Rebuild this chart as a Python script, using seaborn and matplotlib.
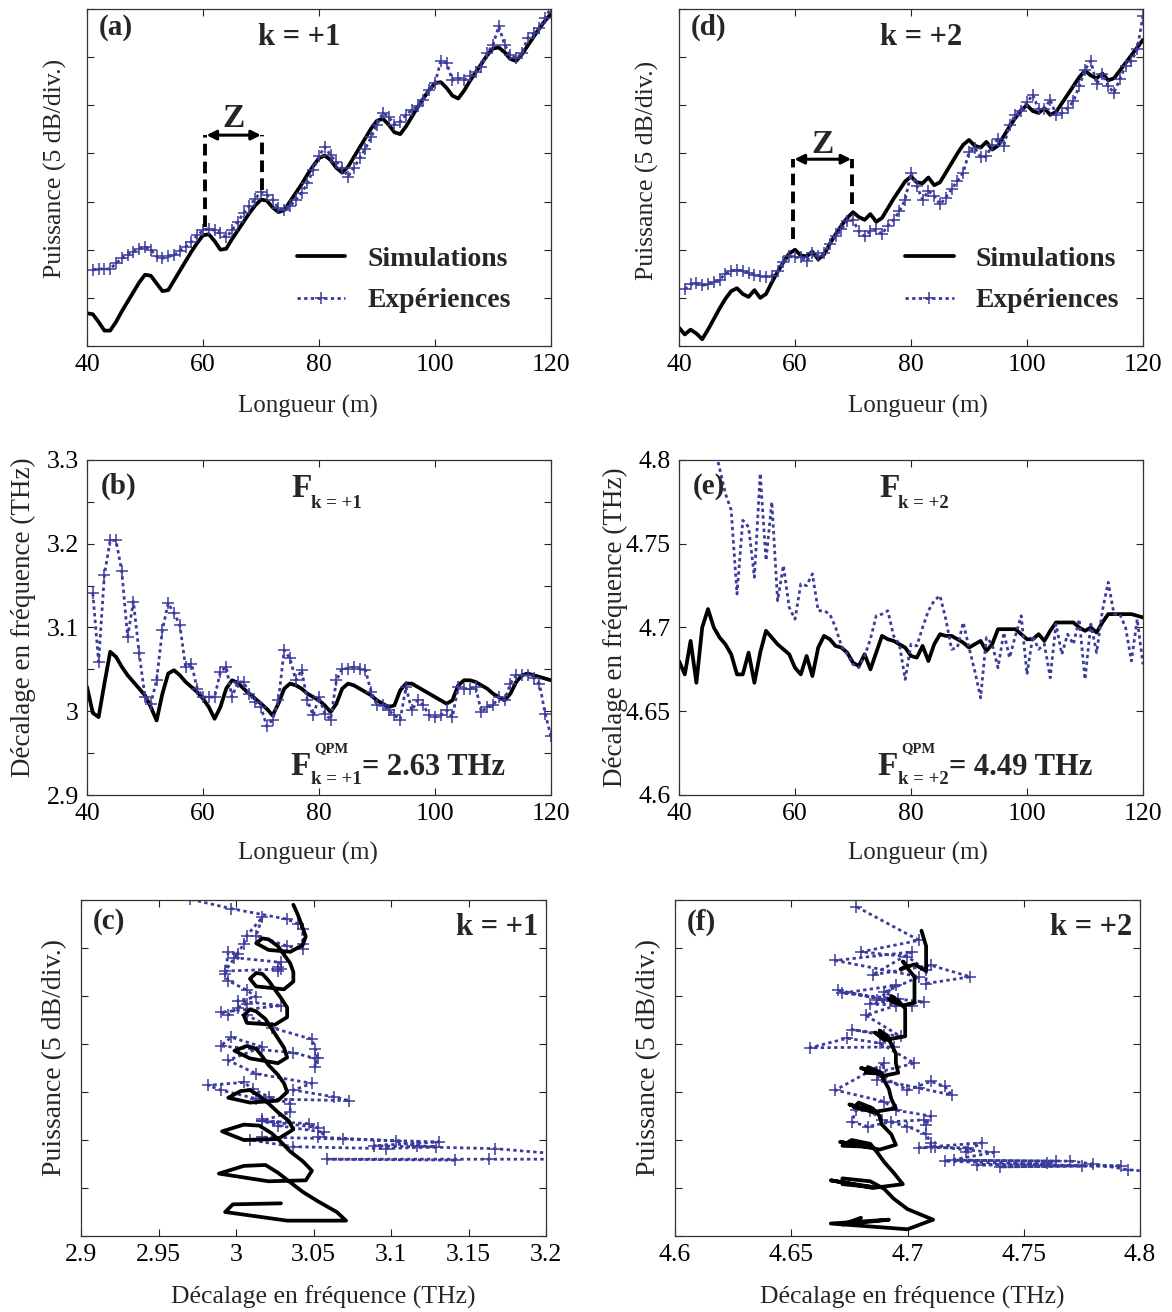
import matplotlib
matplotlib.use("Agg")
import matplotlib.pyplot as plt
from matplotlib.ticker import FuncFormatter, MultipleLocator, NullFormatter
import seaborn as sns

# ---------------------------------------------------------------------------
# Data (power in dB above the bottom of the 7-div axis,
# frequency shift in THz). Simulations sampled every metre, experiments too.
# ---------------------------------------------------------------------------
length_sim = list(range(40, 121))
length_exp = list(range(41, 121))

sim_power_k1 = [
    3.4, 3.3, 2.5, 1.6, 1.6, 2.5, 3.6, 4.6, 5.6, 6.6,
    7.4, 7.3, 6.5, 5.7, 5.8, 6.8, 7.8, 8.8, 9.8, 10.7,
    11.5, 11.6, 10.9, 10.0, 10.1, 11.1, 12.0, 12.9, 13.8, 14.6,
    15.2, 15.1, 14.4, 13.9, 14.1, 15.0, 15.9, 16.8, 17.8, 18.7,
    19.5, 19.8, 19.3, 18.5, 18.0, 18.6, 19.6, 20.6, 21.6, 22.6,
    23.4, 23.6, 23.0, 22.2, 22.0, 22.8, 23.8, 24.8, 25.7, 26.6,
    27.3, 27.4, 26.8, 26.0, 25.7, 26.5, 27.5, 28.4, 29.3, 30.2,
    30.9, 31.0, 30.5, 29.8, 29.6, 30.3, 31.2, 32.1, 33.0, 33.8,
    34.5,
]
exp_power_k1 = [
    7.9, 8.0, 8.0, 8.0, 8.6, 9.1, 9.4, 9.8, 10.1, 10.3,
    10.0, 9.3, 9.1, 9.3, 9.4, 9.9, 10.3, 10.8, 11.5, 12.0,
    12.2, 12.0, 11.7, 11.3, 12.0, 12.9, 13.8, 14.5, 15.3, 16.0,
    15.7, 15.2, 14.3, 14.1, 14.5, 15.2, 15.9, 16.9, 18.3, 19.7,
    20.7, 19.8, 19.1, 18.5, 17.6, 18.5, 19.5, 20.5, 21.7, 23.0,
    24.2, 23.8, 23.0, 23.3, 24.0, 24.5, 24.9, 25.6, 26.6, 27.3,
    29.6, 29.4, 27.6, 27.8, 27.6, 28.0, 28.5, 29.0, 30.4, 31.3,
    33.2, 31.3, 30.2, 29.9, 30.4, 32.0, 32.5, 33.0, 34.1, 35.1,
]
sim_freq_k1 = [
    3.029, 2.998, 2.993, 3.033, 3.071, 3.065, 3.053, 3.043, 3.035, 3.027,
    3.019, 3.005, 2.989, 3.021, 3.045, 3.049, 3.043, 3.035, 3.029, 3.023,
    3.015, 3.005, 2.991, 3.005, 3.027, 3.037, 3.034, 3.027, 3.021, 3.015,
    3.009, 3.003, 2.995, 3.009, 3.027, 3.033, 3.031, 3.027, 3.021, 3.017,
    3.013, 3.007, 2.999, 3.009, 3.027, 3.033, 3.031, 3.027, 3.023, 3.019,
    3.013, 3.009, 3.005, 3.007, 3.025, 3.033, 3.033, 3.029, 3.025, 3.021,
    3.017, 3.013, 3.009, 3.013, 3.031, 3.037, 3.037, 3.035, 3.031, 3.027,
    3.021, 3.017, 3.013, 3.021, 3.035, 3.043, 3.045, 3.043, 3.041, 3.039,
    3.037,
]
exp_freq_k1 = [
    3.141, 3.059, 3.163, 3.204, 3.204, 3.167, 3.089, 3.131, 3.069, 3.017,
    3.009, 3.037, 3.097, 3.129, 3.117, 3.103, 3.053, 3.057, 3.027, 3.017,
    3.017, 3.017, 3.047, 3.053, 3.017, 3.035, 3.035, 3.021, 3.011, 3.005,
    2.982, 2.990, 3.013, 3.073, 3.063, 3.037, 3.049, 3.013, 2.995, 3.017,
    2.997, 2.990, 3.037, 3.051, 3.051, 3.053, 3.051, 3.049, 3.023, 3.007,
    3.007, 3.001, 2.995, 2.990, 3.029, 3.001, 3.013, 3.007, 2.995, 2.993,
    2.995, 3.001, 2.993, 3.029, 3.027, 3.027, 3.029, 2.999, 3.005, 3.007,
    3.017, 3.013, 3.033, 3.043, 3.043, 3.043, 3.040, 3.033, 2.997, 2.970,
]

sim_power_k2 = [
    1.9, 1.2, 1.7, 1.3, 0.7, 1.7, 2.8, 3.9, 4.9, 5.7,
    6.0, 5.4, 5.1, 5.8, 5.0, 5.4, 6.6, 7.7, 8.7, 9.6,
    10.0, 9.4, 9.3, 9.8, 9.0, 9.5, 10.6, 11.6, 12.5, 13.3,
    13.9, 13.4, 13.1, 13.7, 12.9, 13.3, 14.3, 15.3, 16.2, 17.1,
    17.6, 17.0, 16.9, 17.5, 16.7, 17.0, 18.0, 19.0, 20.0, 20.9,
    21.4, 20.8, 20.6, 21.2, 20.4, 20.8, 21.8, 22.8, 23.7, 24.5,
    25.0, 24.4, 24.2, 24.7, 24.0, 24.3, 25.2, 26.1, 27.0, 27.9,
    28.6, 28.1, 27.8, 28.3, 27.6, 27.8, 28.6, 29.4, 30.2, 31.0,
    31.8,
]
exp_power_k2 = [
    5.9, 6.4, 6.5, 6.3, 6.4, 6.6, 6.9, 7.5, 7.8, 7.9,
    7.8, 7.6, 7.4, 7.3, 7.2, 7.3, 7.8, 8.7, 9.3, 9.2,
    9.2, 8.8, 9.7, 9.3, 9.7, 10.6, 11.4, 12.1, 13.0, 13.1,
    11.9, 11.4, 11.9, 12.1, 11.6, 12.5, 13.1, 14.0, 15.2, 18.0,
    16.6, 15.2, 16.1, 15.6, 14.7, 15.4, 16.3, 17.1, 18.0, 20.1,
    20.6, 19.6, 19.7, 20.9, 21.5, 20.8, 23.0, 24.0, 24.4, 25.3,
    26.1, 24.6, 24.6, 25.6, 24.0, 24.2, 24.7, 25.4, 27.0, 28.7,
    29.6, 27.2, 28.2, 27.0, 26.3, 27.7, 29.1, 29.6, 30.8, 34.3,
]
sim_freq_k2 = [
    4.680, 4.672, 4.692, 4.667, 4.700, 4.711, 4.700, 4.694, 4.690, 4.684,
    4.672, 4.672, 4.685, 4.667, 4.685, 4.698, 4.694, 4.690, 4.687, 4.684,
    4.676, 4.672, 4.683, 4.671, 4.688, 4.695, 4.693, 4.689, 4.688, 4.685,
    4.679, 4.677, 4.684, 4.675, 4.685, 4.695, 4.693, 4.692, 4.690, 4.688,
    4.683, 4.682, 4.689, 4.680, 4.690, 4.696, 4.695, 4.695, 4.693, 4.691,
    4.688, 4.690, 4.692, 4.686, 4.690, 4.699, 4.699, 4.699, 4.699, 4.696,
    4.693, 4.693, 4.696, 4.692, 4.698, 4.703, 4.703, 4.703, 4.703, 4.700,
    4.698, 4.700, 4.697, 4.703, 4.708, 4.708, 4.708, 4.708, 4.708, 4.707,
    4.706,
]
exp_freq_k2 = [
    4.840, 4.830, 4.860, 4.850, 4.830, 4.810, 4.795, 4.780, 4.770, 4.720,
    4.764, 4.760, 4.730, 4.792, 4.740, 4.775, 4.716, 4.737, 4.712, 4.705,
    4.726, 4.725, 4.732, 4.710, 4.710, 4.708, 4.700, 4.689, 4.684, 4.678,
    4.676, 4.683, 4.693, 4.707, 4.708, 4.710, 4.695, 4.690, 4.669, 4.690,
    4.689, 4.700, 4.710, 4.716, 4.719, 4.705, 4.687, 4.688, 4.703, 4.688,
    4.674, 4.658, 4.694, 4.690, 4.676, 4.697, 4.682, 4.695, 4.707, 4.672,
    4.695, 4.687, 4.690, 4.670, 4.702, 4.684, 4.696, 4.690, 4.705, 4.669,
    4.702, 4.685, 4.710, 4.727, 4.708, 4.708, 4.700, 4.680, 4.705, 4.678,
]

LEGEND_LABELS = ["Simulations", "Expériences"]
EXP_COLOR = "#3b3b9c"
SIM_COLOR = "black"

# annotation positions for the "Z" period marker (metres / dB)
Z_K1 = {"x0": 60.4, "x1": 70.2, "top": 21.9, "bot0": 12.4, "bot1": 16.2, "text": 23.6}
Z_K2 = {"x0": 59.7, "x1": 69.9, "top": 19.4, "bot0": 11.1, "bot1": 14.7, "text": 20.9}

# ---------------------------------------------------------------------------
# Style
# ---------------------------------------------------------------------------
sns.set_style("ticks")
plt.rcParams["font.family"] = ["Liberation Serif", "DejaVu Serif"]

fmt_g = FuncFormatter(lambda v, p: f"{v:g}")

fig = plt.figure(figsize=(11.72, 13.12), dpi=100)
W, H = 1172.0, 1312.0


def add_ax(left, top, right, bottom):
    return fig.add_axes([left / W, 1 - bottom / H, (right - left) / W, (bottom - top) / H])


def style(ax):
    for s in ax.spines.values():
        s.set_linewidth(0.9)
        s.set_color("#333333")
    ax.tick_params(which="both", direction="in", top=True, right=True,
                   length=5, width=0.8, labelsize=18.5, pad=6, colors="#222222",
                   labelcolor="black")


def sim_line(ax, x, y):
    sns.lineplot(x=x, y=y, ax=ax, color=SIM_COLOR, linewidth=2.7,
                 sort=False, estimator=None)


def exp_line(ax, x, y, markers=True):
    kw = dict(marker="+", markersize=8, markeredgewidth=1.1,
              markeredgecolor=EXP_COLOR) if markers else {}
    sns.lineplot(x=x, y=y, ax=ax, color=EXP_COLOR, linewidth=2.0,
                 linestyle=(0, (1.2, 1.2)), sort=False, estimator=None, **kw)


def bold(ax, x, y, s, size, **kw):
    ax.text(x, y, s, transform=ax.transAxes, fontsize=size, fontweight="bold", **kw)


def power_panel(ax, sim_p, exp_p, tag, ktxt, kx, z, leg_x, xlab_x, ylab_y):
    sim_line(ax, length_sim, sim_p)
    exp_line(ax, length_exp, exp_p)
    handles = [ax.lines[0], ax.lines[1]]
    for xx, yb in ((z["x0"], z["bot0"]), (z["x1"], z["bot1"])):
        ax.plot([xx, xx], [yb, z["top"]], color="black", lw=2.8,
                linestyle=(0, (3, 1.6)))
    ax.annotate("", xy=(z["x0"] + 0.2, z["top"]), xytext=(z["x1"] - 0.2, z["top"]),
                arrowprops=dict(arrowstyle="<|-|>", lw=2.2, color="black",
                                mutation_scale=14, shrinkA=0, shrinkB=0))
    ax.text((z["x0"] + z["x1"]) / 2, z["text"], "Z", fontsize=24, fontweight="bold",
            ha="center", va="center")
    ax.set_xlim(40, 120)
    ax.set_ylim(0, 35)
    ax.set_xticks([40, 60, 80, 100, 120])
    ax.set_yticks(range(0, 36, 5))
    ax.yaxis.set_major_formatter(NullFormatter())
    ax.set_xlabel("Longueur (m)", fontsize=18)
    ax.xaxis.set_label_coords(xlab_x, -0.145)
    ax.set_ylabel("Puissance (5 dB/div.)", fontsize=18.5)
    ax.yaxis.set_label_coords(-0.043, ylab_y)
    bold(ax, 0.025, 0.945, tag, 21, ha="left", va="center")
    bold(ax, kx, 0.916, ktxt, 22, ha="center", va="center")
    ax.legend(handles, LEGEND_LABELS, loc="lower left", bbox_to_anchor=(leg_x, 0.097),
              frameon=False, borderpad=0, borderaxespad=0, handlelength=1.75,
              handletextpad=0.8, labelspacing=0.57,
              prop={"weight": "bold", "size": 20, "family": "Liberation Serif"})
    style(ax)


def freq_panel(ax, sim_f, exp_f, tag, ksub, qpm, ylo, yhi, major, minor, dx,
               markers, xlab_x, ylab_y):
    sim_line(ax, length_sim, sim_f)
    exp_line(ax, length_exp, exp_f, markers)
    ax.set_xlim(40, 120)
    ax.set_ylim(ylo, yhi)
    ax.set_xticks([40, 60, 80, 100, 120])
    ax.yaxis.set_major_locator(MultipleLocator(major))
    ax.yaxis.set_minor_locator(MultipleLocator(minor))
    ax.yaxis.set_major_formatter(fmt_g)
    ax.set_xlabel("Longueur (m)", fontsize=18)
    ax.xaxis.set_label_coords(xlab_x, -0.14)
    ax.set_ylabel("Décalage en fréquence (THz)", fontsize=19.5)
    ax.yaxis.set_label_coords(-0.11, ylab_y)
    bold(ax, 0.03, 0.92, tag, 21, ha="left", va="center")
    # F_{k=..} label
    bold(ax, 0.441 + dx, 0.890, "F", 24, ha="left", va="baseline")
    bold(ax, 0.483 + dx, 0.857, "k = " + ksub, 13.5, ha="left", va="baseline")
    # F^{QPM}_{k=..} = ... label
    bold(ax, 0.4375 + dx, 0.060, "F", 24, ha="left", va="baseline")
    bold(ax, 0.489 + dx, 0.128, "QPM", 10.5, ha="left", va="baseline")
    bold(ax, 0.483 + dx, 0.033, "k = " + ksub, 13.5, ha="left", va="baseline")
    bold(ax, 0.592 + dx, 0.060, "= " + qpm, 22, ha="left", va="baseline")
    style(ax)


def loop_panel(ax, sim_f, sim_p, exp_f, exp_p, tag, ktxt, xlo, xhi, xlab_x):
    exp_line(ax, exp_f, exp_p)
    sim_line(ax, sim_f, sim_p)
    ax.set_xlim(xlo, xhi)
    ax.set_ylim(0, 35)
    ax.xaxis.set_major_locator(MultipleLocator(0.05))
    ax.xaxis.set_major_formatter(fmt_g)
    ax.set_yticks(range(0, 36, 5))
    ax.yaxis.set_major_formatter(NullFormatter())
    ax.set_xlabel("Décalage en fréquence (THz)", fontsize=18.5)
    ax.xaxis.set_label_coords(xlab_x, -0.148)
    ax.set_ylabel("Puissance (5 dB/div.)", fontsize=20)
    ax.yaxis.set_label_coords(-0.03, 0.53)
    bold(ax, 0.025, 0.935, tag, 21, ha="left", va="center")
    bold(ax, 0.983, 0.917, ktxt, 22, ha="right", va="center")
    style(ax)


ax_a = add_ax(87, 9, 551, 346)
ax_d = add_ax(679, 9, 1143, 346)
ax_b = add_ax(87, 460, 551, 795)
ax_e = add_ax(679, 460, 1143, 795)
ax_c = add_ax(81, 900, 546, 1236)
ax_f = add_ax(675, 900, 1140, 1236)

power_panel(ax_a, sim_power_k1, exp_power_k1, "(a)", "k = +1", 0.458, Z_K1, 0.452,
            0.476, 0.528)
power_panel(ax_d, sim_power_k2, exp_power_k2, "(d)", "k = +2", 0.522, Z_K2, 0.487,
            0.514, 0.522)

freq_panel(ax_b, sim_freq_k1, exp_freq_k1, "(b)", "+1", "2.63 THz",
           2.9, 3.3, 0.1, 0.05, 0.0, True, 0.476, 0.53)
freq_panel(ax_e, sim_freq_k2, exp_freq_k2, "(e)", "+2", "4.49 THz",
           4.6, 4.8, 0.05, 0.05, -0.01, False, 0.514, 0.50)

loop_panel(ax_c, sim_freq_k1, sim_power_k1, exp_freq_k1, exp_power_k1,
           "(c)", "k = +1", 2.9, 3.2, 0.52)
loop_panel(ax_f, sim_freq_k2, sim_power_k2, exp_freq_k2, exp_power_k2,
           "(f)", "k = +2", 4.6, 4.8, 0.51)

fig.savefig("out.png", dpi=100)
